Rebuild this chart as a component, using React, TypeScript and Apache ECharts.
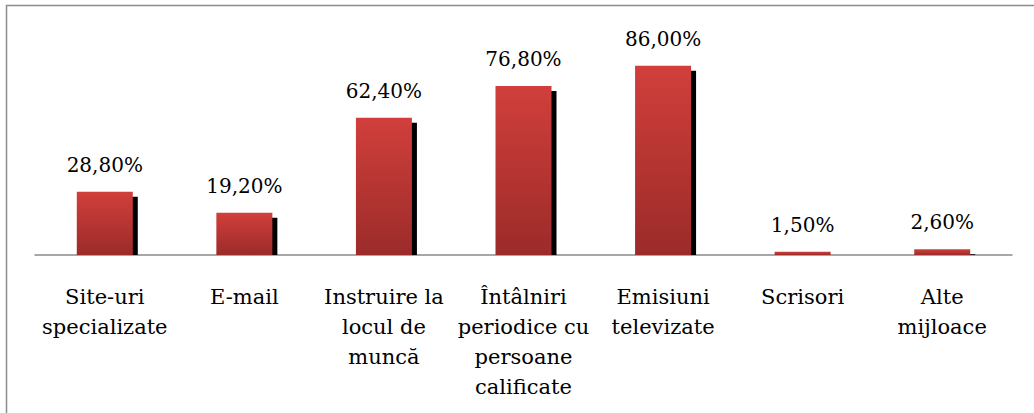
import React, { useEffect, useRef } from "react";
import * as echarts from "echarts";

const categories: string[] = [
  "Site-uri\nspecializate",
  "E-mail",
  "Instruire la\nlocul de\nmuncă",
  "Întâlniri\nperiodice cu\npersoane\ncalificate",
  "Emisiuni\ntelevizate",
  "Scrisori",
  "Alte\nmijloace",
];
const values: number[] = [28.8, 19.2, 62.4, 76.8, 86.0, 1.5, 2.6];

const FONT = "DejaVu Serif";

function fmt(v: number): string {
  return v.toFixed(2).replace(".", ",") + "%";
}

export default function App() {
  const ref = useRef<HTMLDivElement>(null);
  useEffect(() => {
    if (!ref.current) return;
    const chart = echarts.init(ref.current, undefined, { renderer: "svg" });
    const option: any = {
      animation: false,
      backgroundColor: "#ffffff",
      grid: { left: 35, right: 22, top: 35, bottom: 158, containLabel: false },
      graphic: [
        {
          type: "rect",
          silent: true,
          shape: { x: 6.5, y: 5.5, width: 1200, height: 600 },
          style: { fill: "none", stroke: "#8c8c8c", lineWidth: 1.5 },
          z: 100,
        },
      ],
      xAxis: {
        type: "category",
        data: categories,
        axisLine: { show: true, lineStyle: { color: "#8a8a8a", width: 1.5 } },
        axisTick: { show: false },
        axisLabel: {
          interval: 0,
          margin: 27,
          color: "#000",
          fontFamily: FONT,
          fontSize: 21,
          lineHeight: 30,
          align: "center",
        },
      },
      yAxis: {
        type: "value",
        min: 0,
        max: 100,
        show: false,
        splitLine: { show: false },
      },
      series: [
        {
          type: "custom",
          data: values.map((v, i) => [i, v]),
          encode: { x: 0, y: 1 },
          z: 2,
          renderItem: (params: any, api: any) => {
            const idx = api.value(0);
            const v = api.value(1);
            const top = api.coord([idx, v]);
            const base = api.coord([idx, 0]);
            const bw = 56;
            const x0 = top[0] - bw / 2;
            const h = base[1] - top[1];
            const children: any[] = [];
            if (h > 5) {
              children.push({
                type: "rect",
                shape: { x: x0 + 5, y: top[1] + 5, width: bw, height: h - 5 },
                style: { fill: "#000000" },
              });
            }
            children.push({
              type: "rect",
              shape: { x: x0, y: top[1], width: bw, height: h },
              style: {
                fill: new echarts.graphic.LinearGradient(0, 0, 0, 1, [
                  { offset: 0, color: "#d13f3b" },
                  { offset: 1, color: "#9b2b29" },
                ]),
              },
            });
            children.push({
              type: "text",
              style: {
                text: fmt(v),
                x: top[0],
                y: top[1] - 17,
                align: "center",
                verticalAlign: "bottom",
                fill: "#000",
                fontFamily: FONT,
                fontSize: 20,
              },
            });
            return { type: "group", children };
          },
        },
      ],
    };
    chart.setOption(option);
    return () => chart.dispose();
  }, []);
  return (
    <div
      ref={ref}
      style={{ position: "absolute", left: 0, top: 0, width: 1034, height: 413 }}
    />
  );
}
